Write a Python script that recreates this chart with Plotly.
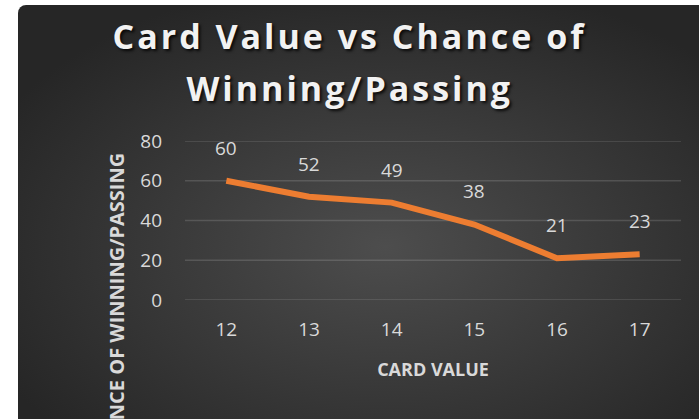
import base64
import plotly.graph_objects as go

# ---- data ----
card_values = ["12", "13", "14", "15", "16", "17"]
chance_pct = [60, 52, 49, 38, 21, 23]
y_ticks = [0, 20, 40, 60, 80]

title_lines = ["Card Value vs Chance of", "Winning/Passing"]
x_title = "CARD VALUE"
y_title = "CHANCE OF WINNING/PASSING"

W, H = 699, 419
L, R, T, B = 185, 18, 141, 119
pw, ph = W - L - R, H - T - B

# background: dark radial gradient with rounded corner (Excel style)
svg = f'''<svg xmlns="http://www.w3.org/2000/svg" width="{W-18}" height="{H-5}" viewBox="0 0 {W-18} {H-5}" preserveAspectRatio="none">
<defs><radialGradient id="g" cx="0.52" cy="0.55" r="0.62" gradientUnits="objectBoundingBox">
<stop offset="0" stop-color="#4d4d4d"/><stop offset="1" stop-color="#262626"/></radialGradient></defs>
<rect x="0" y="0" width="{W-18+20}" height="{H-5+20}" rx="8" ry="8" fill="url(#g)"/></svg>'''
src = "data:image/svg+xml;base64," + base64.b64encode(svg.encode()).decode()

def px_to_paper_x(px):
    return (px - L) / pw

def px_to_paper_y(py):
    return 1 - (py - T) / ph

fig = go.Figure()

# horizontal gridlines (incl. 0 and 80, which sit on the plot edges)
for v in y_ticks:
    fig.add_hline(y=v, line=dict(color="rgba(255,255,255,0.14)", width=1.3), layer="below")

fig.add_trace(go.Scatter(
    x=card_values, y=chance_pct, mode="lines",
    line=dict(color="#ED7D31", width=6),
    hoverinfo="skip", showlegend=False,
))

annotations = []
for i, yv in enumerate(chance_pct):
    annotations.append(dict(
        x=i, y=yv, xref="x", yref="y", text=str(yv), showarrow=False,
        xanchor="center", yanchor="middle",
        yshift=33, font=dict(family="Open Sans", size=19, color="#d9d9d9"),
    ))
# chart title, one annotation per line
title_font = dict(family="Open Sans", size=34, color="#f2f2f2", weight="bold",
                  shadow="2px 2px 3px rgba(0,0,0,0.8)")
for line, cy in zip(title_lines, [36, 88]):
    annotations.append(dict(
        x=px_to_paper_x(350), y=px_to_paper_y(cy), xref="paper", yref="paper",
        text=line, showarrow=False, xanchor="center", yanchor="middle",
        font=title_font,
    ))
# y axis title (clipped at bottom as in the reference)
annotations.append(dict(
    x=px_to_paper_x(116), y=px_to_paper_y(308), xref="paper", yref="paper",
    text=y_title, textangle=-90, showarrow=False, xanchor="center", yanchor="middle",
    font=dict(family="Open Sans", size=20, color="#d9d9d9", weight="bold"),
))

fig.update_layout(
    width=W, height=H,
    margin=dict(l=L, r=R, t=T, b=B),
    paper_bgcolor="white",
    plot_bgcolor="rgba(0,0,0,0)",
    images=[dict(
        source=src, xref="paper", yref="paper",
        x=px_to_paper_x(18), y=px_to_paper_y(5),
        sizex=(W - 18 + 5) / pw, sizey=(H - 5 + 5) / ph,
        xanchor="left", yanchor="top", sizing="stretch", layer="below",
    )],
    xaxis=dict(
        type="category", range=[-0.5, 5.5], showgrid=False, zeroline=False,
        showline=False, ticks="", ticklabelstandoff=16,
        tickfont=dict(family="Open Sans", size=19, color="#d9d9d9"),
        title=dict(text=x_title, standoff=22,
                   font=dict(family="Open Sans", size=18, color="#d9d9d9", weight="bold")),
    ),
    yaxis=dict(
        range=[0, 80], tickvals=y_ticks, showgrid=False,
        zeroline=False, showline=False, ticks="", ticklabelstandoff=22,
        tickfont=dict(family="Open Sans", size=19, color="#d9d9d9"),
    ),
    annotations=annotations,
)

post = """
document.body.style.margin = '0';
document.querySelectorAll('text.annotation-text').forEach(function (t) {
  var s = t.textContent;
  if (s.indexOf('Card Value') >= 0 || s.indexOf('Winning/Passing') === 0) {
    t.style.letterSpacing = '3px';
  }
});
"""

fig.write_html("out.html", post_script=post, config={"displayModeBar": False})
